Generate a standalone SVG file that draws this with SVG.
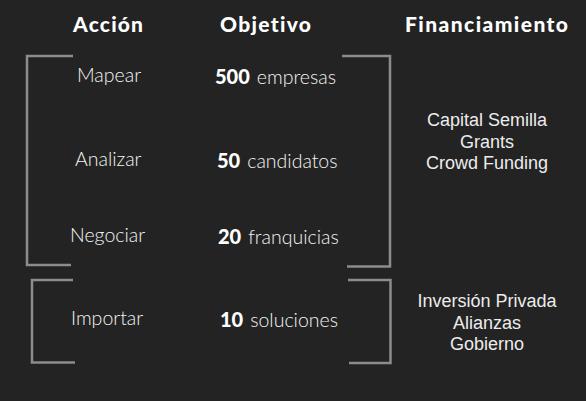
<svg xmlns="http://www.w3.org/2000/svg" width="586" height="401" viewBox="0 0 586 401">
<style>
.bg{fill:#232323}
.br{fill:none;stroke:#8c8c8c;stroke-width:2.5}
text{font-variant-ligatures:none}
.h{font-family:Lato,"Liberation Sans",sans-serif;font-weight:900;font-size:21px;fill:#ffffff}
.t{font-family:Lato,"Liberation Sans",sans-serif;font-weight:300;font-size:19.5px;fill:#f4f4f4}
.n{font-family:Lato,"Liberation Sans",sans-serif;font-weight:900;font-size:20px;fill:#ffffff}
.f{font-family:"Liberation Sans",Arial,sans-serif;font-size:18px;fill:#ececec;text-anchor:middle}
</style>
<rect class="bg" x="0" y="0" width="586" height="401"/>
<g id="headers">
<text class="h" x="73" y="32" textLength="70" lengthAdjust="spacing">Acción</text>
<text class="h" x="220" y="32" textLength="91" lengthAdjust="spacing">Objetivo</text>
<text class="h" x="405" y="32" textLength="163" lengthAdjust="spacing">Financiamiento</text>
</g>
<g id="connectors">
<path class="br" d="M73,56 H27 V265 H71"/>
<path class="br" d="M342,56 H390 V266.5 H347"/>
<path class="br" d="M73,280 H32 V362.5 H75"/>
<path class="br" d="M348,280 H390.5 V363 H349"/>
</g>
<g id="mapear">
<text class="t" x="77" y="82">Mapear</text>
<text x="215" y="84"><tspan class="n">500</tspan><tspan class="t" dx="7">empresas</tspan></text>
</g>
<g id="analizar">
<text class="t" x="75" y="166">Analizar</text>
<text x="217" y="168"><tspan class="n">50</tspan><tspan class="t" dx="7">candidatos</tspan></text>
</g>
<g id="negociar">
<text class="t" x="70" y="242">Negociar</text>
<text x="218" y="244"><tspan class="n">20</tspan><tspan class="t" dx="7">franquicias</tspan></text>
</g>
<g id="importar">
<text class="t" x="71" y="325">Importar</text>
<text x="220" y="327"><tspan class="n">10</tspan><tspan class="t" dx="7">soluciones</tspan></text>
</g>
<g id="financiamiento1">
<text class="f" x="487" y="126">Capital Semilla</text>
<text class="f" x="487" y="147.5">Grants</text>
<text class="f" x="487" y="169">Crowd Funding</text>
</g>
<g id="financiamiento2">
<text class="f" x="487" y="307">Inversión Privada</text>
<text class="f" x="487" y="328.5">Alianzas</text>
<text class="f" x="487" y="350">Gobierno</text>
</g>
</svg>
